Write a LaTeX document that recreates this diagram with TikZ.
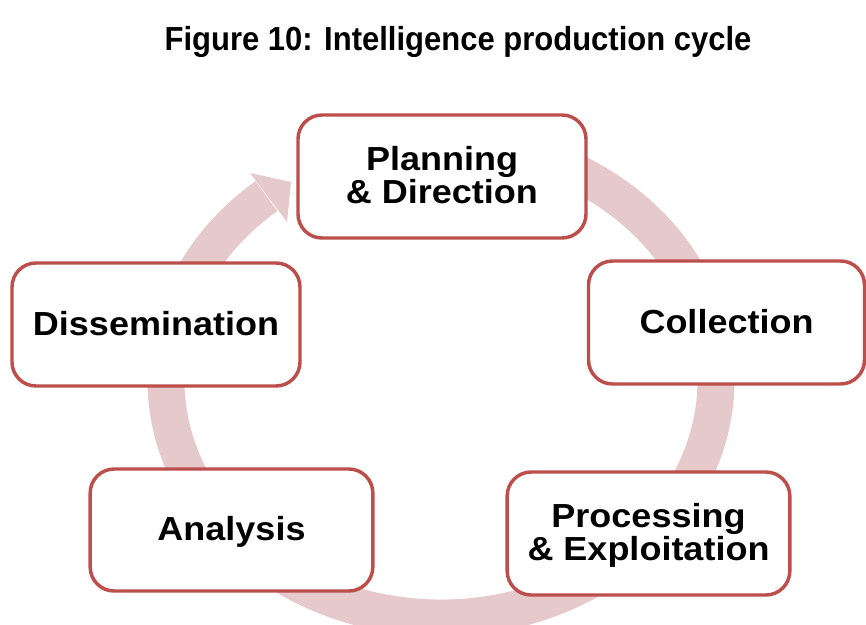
\documentclass[tikz,border=0pt]{standalone}
\usepackage{fontspec}
\setmainfont{Liberation Sans}
\usepackage{graphicx}
\definecolor{ringc}{RGB}{230,201,203}
\definecolor{boxc}{RGB}{188,78,75}
\newcommand\bxt[1]{\raisebox{-2.4pt}[\height][\depth]{\scalebox{1.08}[1]{\begin{tabular}{@{}c@{}}#1\end{tabular}}}}
\tikzset{
  stagebox/.style={draw=boxc, line width=2.6pt, fill=white, rounded corners=18pt,
    inner sep=0pt, align=center, font=\fontsize{25}{22.5}\selectfont\bfseries},
  ringline/.style={draw=ringc, line width=27.75pt},
}
\begin{document}
\begin{tikzpicture}[x=0.75pt,y=-0.75pt]
\useasboundingbox (0,0) rectangle (866,624);
% title
\node[anchor=base, inner sep=0pt, font=\fontsize{25}{30}\selectfont\bfseries] (title) at (458,51) {\scalebox{0.93}[1]{Figure 10: Intelligence production cycle}};
% ring
\coordinate (ctr) at (441,380);
\draw[ringline] ([shift={(-80:275 and 238)}]ctr) arc[start angle=-80, end angle=230.6, x radius=275, y radius=238];
\coordinate (hout) at (250,173);
\coordinate (htip) at (291,182);
\coordinate (hin) at (287,222);
\fill[ringc] (hout) -- (htip) -- (hin) -- cycle;
% boxes
\node[stagebox, minimum width=216pt, minimum height=92.25pt] (plan) at (442,176.5) {\bxt{Planning\\\& Direction}};
\node[stagebox, minimum width=207pt, minimum height=92.25pt] (coll) at (726.5,322.5) {\bxt{Collection}};
\node[stagebox, minimum width=212pt, minimum height=92.25pt] (proc) at (648.5,533.5) {\bxt{Processing\\\& Exploitation}};
\node[stagebox, minimum width=212pt, minimum height=91.5pt] (anal) at (231.5,530) {\bxt{Analysis}};
\node[stagebox, minimum width=216pt, minimum height=92.25pt] (diss) at (156,324.5) {\bxt{Dissemination}};
\end{tikzpicture}
\end{document}
